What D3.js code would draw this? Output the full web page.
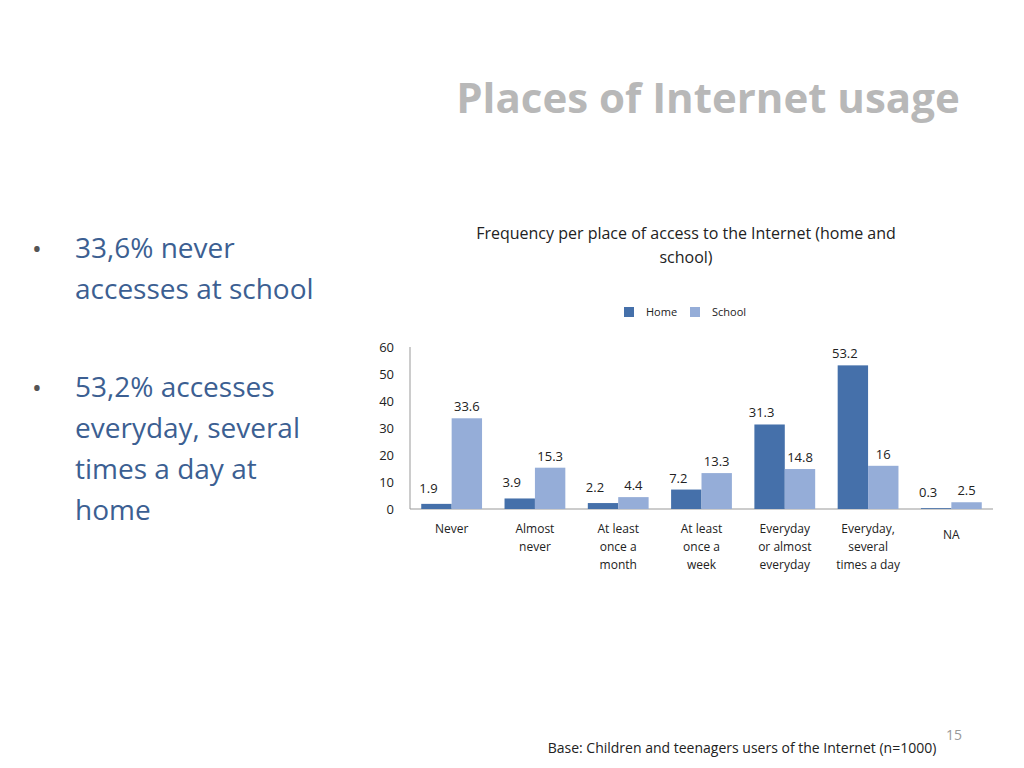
<!DOCTYPE html>
<html><head><meta charset="utf-8">
<script src="https://cdn.jsdelivr.net/npm/d3@7"></script>
<style>body{margin:0;background:#fff}svg{font-family:"Open Sans","Liberation Sans",sans-serif}</style>
</head><body><svg id="c" width="1024" height="768"></svg>
<script>
const categories=[["Never"],["Almost","never"],["At least","once a","month"],["At least","once a","week"],["Everyday","or almost","everyday"],["Everyday,","several","times a day"],["NA"]];
const home=[1.9,3.9,2.2,7.2,31.3,53.2,0.3];
const school=[33.6,15.3,4.4,13.3,14.8,16,2.5];
const seriesNames=["Home","School"];
const colors=["#4570aa","#95add8"];
const yTicks=[0,10,20,30,40,50,60];

const svg=d3.select("#c");
svg.append("text").attr("x",708).attr("y",113).attr("text-anchor","middle").attr("font-size",42).attr("font-weight","bold").attr("fill","#b8b8b8").text("Places of Internet usage");
const bullets=[[["33,6% never","accesses at school"],258],[["53,2% accesses","everyday, several","times a day at","home"],397]];
bullets.forEach(([lines,y])=>{
  svg.append("text").attr("x",32).attr("y",y).attr("font-size",26).attr("fill","#555").text("•");
  lines.forEach((l,i)=>svg.append("text").attr("x",75).attr("y",y+i*41).attr("font-size",28).attr("fill","#3c5f92").text(l));
});
svg.append("text").attr("x",686).attr("y",239).attr("text-anchor","middle").attr("font-size",16).attr("fill","#222").text("Frequency per place of access to the Internet (home and");
svg.append("text").attr("x",686).attr("y",263).attr("text-anchor","middle").attr("font-size",16).attr("fill","#222").text("school)");
// legend
seriesNames.forEach((n,i)=>{
  const x=[624,690][i];
  svg.append("rect").attr("x",x).attr("y",307).attr("width",10).attr("height",10).attr("fill",colors[i]);
  svg.append("text").attr("x",x+22).attr("y",316).attr("font-size",11).attr("fill","#222").text(n);
});
const x0=d3.scaleBand().domain(d3.range(categories.length)).range([410,993]).paddingInner(0.27).paddingOuter(0.135);
const y=d3.scaleLinear().domain([0,60]).range([509,347]);
svg.append("line").attr("x1",410).attr("x2",410).attr("y1",347).attr("y2",509).attr("stroke","#999");
svg.append("line").attr("x1",410).attr("x2",993).attr("y1",509).attr("y2",509).attr("stroke","#999");
yTicks.forEach(t=>svg.append("text").attr("x",394).attr("y",y(t)+5).attr("text-anchor","end").attr("font-size",13).attr("fill","#222").text(t));
const bw=x0.bandwidth()/2;
[home,school].forEach((arr,s)=>{
  arr.forEach((v,i)=>{
    const bx=x0(i)+s*bw;
    svg.append("rect").attr("x",bx).attr("y",y(v)).attr("width",bw).attr("height",y(0)-y(v)).attr("fill",colors[s]);
    svg.append("text").attr("x",bx+bw/2+(s===0?-8:0)).attr("y",y(v)-(s===0&&v<5?-1:7)-(s===0&&v<5?12:0)).attr("text-anchor","middle").attr("font-size",13).attr("fill","#222").text(v);
  });
});
categories.forEach((c,i)=>{
  const cx=x0(i)+x0.bandwidth()/2;
  c.forEach((l,j)=>svg.append("text").attr("x",cx).attr("y",(i===6?539:533)+j*18).attr("text-anchor","middle").attr("font-size",12).attr("fill","#222").text(l));
});
svg.append("text").attr("x",962).attr("y",740).attr("text-anchor","end").attr("font-size",14).attr("fill","#999").text("15");
svg.append("text").attr("x",742).attr("y",753).attr("text-anchor","middle").attr("font-size",14).attr("fill","#222").text("Base: Children and teenagers users of the Internet (n=1000)");
</script></body></html>
